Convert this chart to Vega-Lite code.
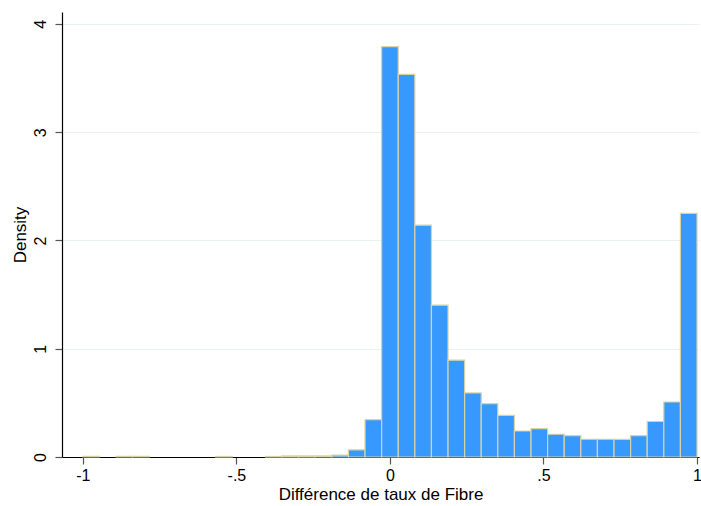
{
  "$schema": "https://vega.github.io/schema/vega-lite/v6.json",
  "width": 637,
  "height": 445,
  "autosize": {"type": "none"},
  "padding": {"left": 62, "top": 12, "right": 2, "bottom": 49},
  "background": "white",
  "config": {
    "view": {"stroke": null},
    "font": "Liberation Sans"
  },
  "data": {
    "values": [
      {"bin_start": -1.0, "bin_end": -0.945946, "density": 0.005},
      {"bin_start": -0.891892, "bin_end": -0.837838, "density": 0.005},
      {"bin_start": -0.837838, "bin_end": -0.783784, "density": 0.005},
      {"bin_start": -0.567568, "bin_end": -0.513514, "density": 0.005},
      {"bin_start": -0.405405, "bin_end": -0.351351, "density": 0.005},
      {"bin_start": -0.351351, "bin_end": -0.297297, "density": 0.01},
      {"bin_start": -0.297297, "bin_end": -0.243243, "density": 0.01},
      {"bin_start": -0.243243, "bin_end": -0.189189, "density": 0.01},
      {"bin_start": -0.189189, "bin_end": -0.135135, "density": 0.017},
      {"bin_start": -0.135135, "bin_end": -0.081081, "density": 0.066},
      {"bin_start": -0.081081, "bin_end": -0.027027, "density": 0.346},
      {"bin_start": -0.027027, "bin_end": 0.027027, "density": 3.79},
      {"bin_start": 0.027027, "bin_end": 0.081081, "density": 3.534},
      {"bin_start": 0.081081, "bin_end": 0.135135, "density": 2.141},
      {"bin_start": 0.135135, "bin_end": 0.189189, "density": 1.402},
      {"bin_start": 0.189189, "bin_end": 0.243243, "density": 0.894},
      {"bin_start": 0.243243, "bin_end": 0.297297, "density": 0.592},
      {"bin_start": 0.297297, "bin_end": 0.351351, "density": 0.493},
      {"bin_start": 0.351351, "bin_end": 0.405405, "density": 0.385},
      {"bin_start": 0.405405, "bin_end": 0.459459, "density": 0.24},
      {"bin_start": 0.459459, "bin_end": 0.513514, "density": 0.262},
      {"bin_start": 0.513514, "bin_end": 0.567568, "density": 0.21},
      {"bin_start": 0.567568, "bin_end": 0.621622, "density": 0.198},
      {"bin_start": 0.621622, "bin_end": 0.675676, "density": 0.164},
      {"bin_start": 0.675676, "bin_end": 0.72973, "density": 0.164},
      {"bin_start": 0.72973, "bin_end": 0.783784, "density": 0.162},
      {"bin_start": 0.783784, "bin_end": 0.837838, "density": 0.198},
      {"bin_start": 0.837838, "bin_end": 0.891892, "density": 0.328},
      {"bin_start": 0.891892, "bin_end": 0.945946, "density": 0.508},
      {"bin_start": 0.945946, "bin_end": 1.0, "density": 2.25}
    ]
  },
  "mark": {"type": "rect", "fill": "#3799fd", "stroke": "#d8d3a6", "strokeWidth": 1.2},
  "encoding": {
    "x": {
      "field": "bin_start",
      "type": "quantitative",
      "scale": {"domain": [-1.068, 1.0065], "nice": false, "zero": false},
      "axis": {
        "title": "Différence de taux de Fibre",
        "values": [-1, -0.5, 0, 0.5, 1],
        "labelExpr": "datum.value == -0.5 ? '-.5' : datum.value == 0.5 ? '.5' : datum.value + ''",
        "grid": false,
        "domainColor": "#000000",
        "domainWidth": 1.2,
        "tickColor": "#555555",
        "tickSize": 7,
        "tickWidth": 1.2,
        "labelFontSize": 16,
        "labelColor": "#000000",
        "labelPadding": 3,
        "labelFont": "Liberation Sans",
        "titleFont": "Liberation Sans",
        "titleFontSize": 17,
        "titleFontWeight": "normal",
        "titleColor": "#000000",
        "titlePadding": 3
      }
    },
    "x2": {"field": "bin_end"},
    "y": {
      "field": "density",
      "type": "quantitative",
      "scale": {"domain": [0, 4.11], "nice": false},
      "axis": {
        "title": "Density",
        "values": [0, 1, 2, 3, 4],
        "grid": true,
        "gridColor": "#eaf1f3",
        "gridWidth": 1.2,
        "domainColor": "#000000",
        "domainWidth": 1.2,
        "tickColor": "#555555",
        "tickSize": 7,
        "tickWidth": 1.2,
        "labelAngle": -90,
        "labelAlign": "center",
        "labelBaseline": "bottom",
        "labelPadding": 7,
        "labelFontSize": 16,
        "labelColor": "#000000",
        "labelFont": "Liberation Sans",
        "titleFont": "Liberation Sans",
        "titleFontSize": 17,
        "titleFontWeight": "normal",
        "titleColor": "#000000",
        "titlePadding": 3
      }
    },
    "y2": {"datum": 0}
  }
}
